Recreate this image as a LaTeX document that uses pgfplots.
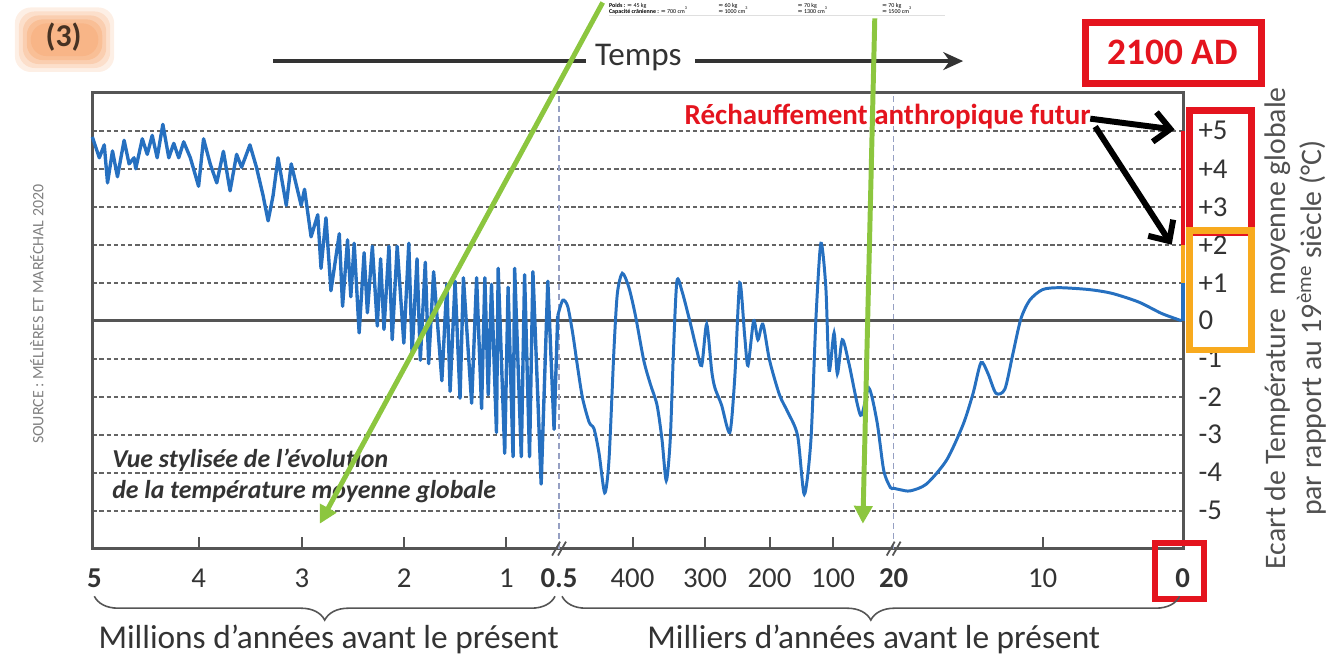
\documentclass[border=0pt]{standalone}
\usepackage{pgfplots}
\pgfplotsset{compat=1.18}
\usepackage{fontspec}
\setmainfont{Carlito}
\newfontfamily\dejavu{DejaVu Sans}
\usetikzlibrary{arrows.meta,decorations.pathreplacing}

\definecolor{lineblue}{RGB}{38,112,192}
\definecolor{axisgray}{RGB}{85,85,85}
\definecolor{gridgray}{RGB}{100,100,100}
\definecolor{txtgray}{RGB}{51,51,51}
\definecolor{labgray}{RGB}{80,80,80}
\definecolor{redbox}{RGB}{228,20,30}
\definecolor{orangebox}{RGB}{248,170,30}
\definecolor{greenarrow}{RGB}{140,198,63}
\definecolor{peach}{RGB}{247,175,125}
\definecolor{badgetxt}{RGB}{70,50,35}
\definecolor{breakblue}{RGB}{150,160,195}
\newcommand{\ap}{{\dejavu ≈}}

\begin{document}
\begin{tikzpicture}
% pixel grid of the reference: 1 px = 0.5pt, y going down
\begin{scope}[x=0.5pt,y=-0.5pt]
\path[use as bounding box] (0,0) rectangle (1333,661);
\foreach \i/\o in {0/0.2,4/0.25,8/0.35,12/0.5,16/0.6}
  \fill[peach, opacity=\o, rounded corners=8pt] ({15+\i},{7+\i}) rectangle ({115-\i},{72-\i});
\node[font=\fontsize{16}{18}\selectfont\bfseries, text=badgetxt] at (64,37) {(3)};
\node[rotate=90, font=\fontsize{8}{9}\selectfont, text=gray] at (37,316) {SOURCE : MÉLIÈRES ET MARÉCHAL 2020};
\end{scope}

\begin{axis}[
  at={(46.5pt,-46.5pt)}, anchor=north west,
  width=549.5pt, height=229.5pt, scale only axis,
  xmin=93, xmax=1192, ymin=-6, ymax=6,
  clip=false,
  axis line style={draw=axisgray, line width=1.5pt},
  xtick={200,304,407,510,637,710,775,839,1050},
  xticklabels={4,3,2,1,400,300,200,100,10},
  extra x ticks={95,563,900,1191},
  extra x tick labels={\textbf{5},\textbf{0.5},\textbf{20},\textbf{0}},
  extra x tick style={major tick length=0pt},
  xtick pos=lower,
  tick align=inside,
  major tick length=6pt,
  x tick style={draw=axisgray, line width=1pt},
  ytick={-5,...,5},
  yticklabels={-5,-4,-3,-2,-1,0,+1,+2,+3,+4,+5},
  yticklabel pos=right,
  yticklabel style={xshift=4pt},
  y tick style={draw=none},
  ymajorgrids,
  grid style={dash pattern=on 2.2pt off 1.4pt, line width=1pt, draw=gridgray},
  tick label style={font=\fontsize{14.5}{16}\selectfont, text=txtgray},
  xticklabel style={yshift=-6.5pt},
  /pgf/number format/assume math mode=true,
]
\draw[breakblue, dash pattern=on 3pt off 2pt, line width=0.8pt] (axis cs:563,-6) -- (axis cs:563,6);
\draw[breakblue, dash pattern=on 3pt off 2pt, line width=0.8pt] (axis cs:900,-6) -- (axis cs:900,6);
\draw[axisgray, line width=1.3pt] (axis cs:93,0) -- (axis cs:1192,0);

% 5 Myr -> 0.5 Myr
\addplot[lineblue, line width=1.7pt, line join=round] coordinates {
(93,4.84) (100,4.29) (105,4.63) (108.3,3.63) (113.3,4.47) (118.3,3.79) (125,4.75) (130,4.13)
(135,4.29) (136.7,4.0) (143.3,4.79) (148.3,4.38) (153.3,4.88) (158.3,4.29) (164,5.17) (170,4.29)
(175,4.67) (180,4.29) (185,4.71) (191.7,4.29) (200,3.54) (205,4.79) (211.7,4.13) (218.3,3.63)
(225,4.46) (231.7,3.42) (238.3,4.38) (243.3,4.04) (251.7,4.63) (258.3,4.04) (265,3.29) (270,2.63)
(275,3.29) (280,4.29) (288.3,3.04) (293.3,4.13) (303.3,3.04) (306.7,3.46) (313.3,2.21) (320,2.79)
(323.3,1.38) (328.3,2.71) (333.3,0.79) (341.7,2.29) (345,0.38) (350,2.13) (353.3,0.63) (356.7,2.04)
(361.7,-0.32) (366.7,1.79) (370,0.21) (375,1.96) (380,-0.14) (383.3,1.63) (386.7,-0.23) (391.7,1.96)
(395,-0.50) (400,1.96) (406.7,-0.59) (411.7,2.04) (415,-0.86) (420,1.63) (423.3,-1.04) (428.3,1.54)
(431.7,-1.13) (436.7,1.29) (445,-1.58) (450,0.96) (453.3,-1.86) (458.3,1.04) (463.3,-2.04) (466.7,1.13)
(475,-2.17) (480,1.13) (485,-2.31) (488.3,1.13) (491.7,-1.95) (495,0.96) (500,-2.94) (501.7,1.38)
(508.3,-3.49) (511.7,0.88) (516.7,-3.58) (518.3,1.38) (525,-3.58) (528.3,1.21) (533.3,-3.58) (536.7,1.29)
(545,-4.30) (551.7,1.04) (558,-2.86) (561.7,0.13)
};
% 500 kyr -> 0
\addplot[lineblue, line width=1.5pt, smooth, tension=0.45] coordinates {
(561.7,0.13) (566.7,0.54) (571.7,0.38) (576.7,-0.32) (581.7,-1.22) (586.7,-2.04) (593.3,-2.67) (598.3,-2.85)
(603.3,-3.49) (609,-4.53) (613.3,-3.67) (618.3,-0.77) (621.7,0.71) (626.7,1.25) (633.3,0.88) (640,0.13)
(648.3,-1.04) (655,-1.67) (661.7,-2.22) (666.7,-3.13) (671,-4.21) (675,-3.13) (678.3,-0.77) (681.7,1.04)
(686.7,0.79) (695,-0.04) (701.7,-0.77) (706.7,-1.18) (711.7,-0.09) (716.7,-1.31) (720,-1.77) (726.7,-2.22)
(735,-2.94) (740,-1.49) (745,1.0) (750,-0.41) (753.3,-1.18) (759,0) (763.3,-0.50) (768.3,-0.09)
(775,-1.04) (785,-1.95) (793.3,-2.40) (803.3,-3.03) (810,-4.57) (816.7,-3.13) (821.7,0.04) (826.7,2.04)
(831.7,0.88) (835,-1.31) (840,-0.32) (843.3,-1.40) (848.3,-0.50) (855,-1.13) (866.7,-2.49) (875,-1.77)
(883.3,-2.67) (890,-3.94) (896.7,-4.39) (900,-4.41) (906.7,-4.45) (916.7,-4.48) (933,-4.30) (953.3,-3.67)
(970,-2.73) (980,-1.91) (988,-1.10) (995,-1.39) (1003,-1.91) (1012,-1.80) (1020,-0.88) (1028,0.04)
(1037,0.54) (1050,0.82) (1067,0.87) (1097,0.82) (1120,0.72) (1147,0.49) (1170,0.19) (1190,0)
};
\addplot[lineblue, line width=2pt] coordinates {(1191,0) (1191,1)};
\addplot[orangebox, line width=2pt] coordinates {(1191,1) (1191,2)};
\addplot[redbox, line width=2pt] coordinates {(1191,2) (1191,5)};
\end{axis}

\begin{scope}[x=0.5pt,y=-0.5pt]
% tiny caption strip at the top
\begin{scope}[font=\fontsize{3}{3.5}\selectfont, inner sep=0pt]
\node[anchor=west] at (613,5) {\textbf{Poids :} \ap{} 45 kg};
\node[anchor=west] at (723,5) {\ap{} 60 kg};
\node[anchor=west] at (803,5) {\ap{} 70 kg};
\node[anchor=west] at (888,5) {\ap{} 70 kg};
\node[anchor=west] at (613,10) {\textbf{Capacité crânienne :} \ap{} 700 cm\textsuperscript{3}};
\node[anchor=west] at (723,10) {\ap{} 1000 cm\textsuperscript{3}};
\node[anchor=west] at (803,10) {\ap{} 1300 cm\textsuperscript{3}};
\node[anchor=west] at (888,10) {\ap{} 1500 cm\textsuperscript{3}};
\end{scope}
\draw[gray!25, line width=0.3pt] (613,15) -- (952,15);

% time arrow
\draw[txtgray, line width=2pt] (275,61) -- (590,61);
\draw[txtgray, line width=2pt, -{Stealth[length=10pt,width=9pt]}] (700,61) -- (970,61);
\node[font=\fontsize{16.7}{18}\selectfont, text=txtgray] at (643,57) {Temps};

% 2100 AD
\draw[redbox, line width=3.5pt] (1093,22) rectangle (1270,84);
\node[font=\fontsize{18.8}{20}\selectfont\bfseries, text=redbox] at (1181,52) {2100 AD};

% future warming
\node[font=\fontsize{14.6}{16}\selectfont\bfseries, text=redbox] at (894,117) {Réchauffement anthropique futur};
\draw[black, line width=3pt, -{Straight Barb[length=8pt,width=15pt]}] (1098,119) -- (1183,130);
\draw[black, line width=3pt, -{Straight Barb[length=8pt,width=15pt]}] (1103,127) -- (1180,246);
\draw[redbox, line width=3.5pt] (1198,111) rectangle (1260,234);
\draw[orangebox, line width=3.5pt] (1198,232) rectangle (1260,352);
\draw[redbox, line width=3pt] (1163,546) rectangle (1213,603);

% y label
\node[rotate=90, font=\fontsize{15}{17}\selectfont, text=labgray] at (1287,330) {Ecart de Température\ \ moyenne globale};
\node[rotate=90, font=\fontsize{15}{17}\selectfont, text=labgray] at (1321,330) {par rapport au 19\textsuperscript{ème} siècle (°C)};

% inner caption
\node[anchor=west, font=\fontsize{13}{15}\selectfont\bfseries\itshape, text=txtgray] at (106,463) {Vue stylisée de l’évolution};
\node[anchor=west, font=\fontsize{13}{15}\selectfont\bfseries\itshape, text=txtgray] at (106,495) {de la température moyenne globale};

% axis breaks
\foreach \b in {563,900} {
  \draw[axisgray, line width=0.9pt] ({\b-7},559) -- ({\b+1},545);
  \draw[axisgray, line width=0.9pt] ({\b-1},559) -- ({\b+7},545);
}

% braces and period labels
\draw[axisgray, line width=0.8pt, decorate, decoration={brace, mirror, amplitude=12pt}] (95,600) -- (559,600);
\draw[axisgray, line width=0.8pt, decorate, decoration={brace, mirror, amplitude=12pt}] (566,600) -- (1188,600);
\node[font=\fontsize{16.8}{18}\selectfont, text=txtgray] at (331,643) {Millions d’années avant le présent};
\node[font=\fontsize{16.8}{18}\selectfont, text=txtgray] at (880,643) {Milliers d’années avant le présent};

% green arrows
\draw[greenarrow, line width=2.5pt, -{Triangle[length=9pt,width=9pt]}] (607,2) -- (322,527);
\draw[greenarrow, line width=2.5pt, -{Triangle[length=9pt,width=9pt]}] (881,18) -- (869,527);
\end{scope}
\end{tikzpicture}
\end{document}
